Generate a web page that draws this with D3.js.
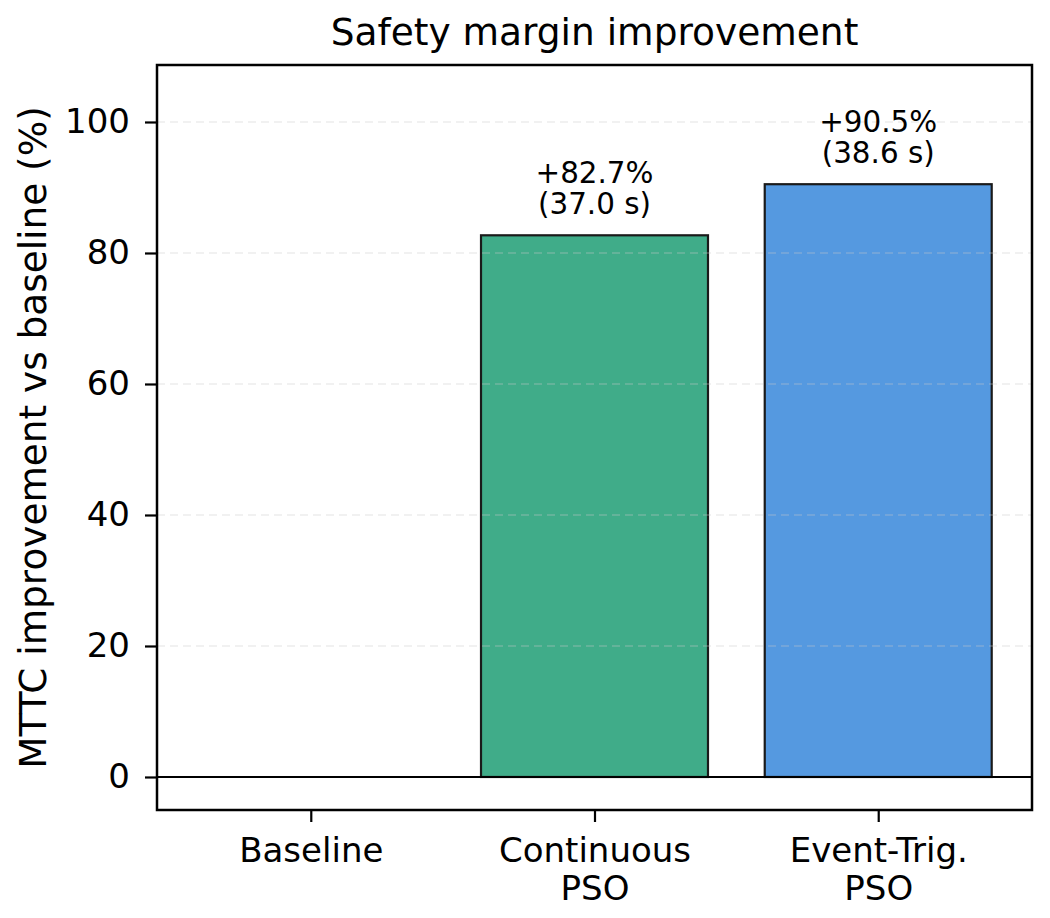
<!DOCTYPE html>
<html>
<head>
<meta charset="utf-8">
<script src="https://cdn.jsdelivr.net/npm/d3@7"></script>
<style>
  html, body { margin: 0; padding: 0; background: #fff; }
  svg { display: block; font-family: "DejaVu Sans", sans-serif; }
</style>
</head>
<body>
<div id="chart"></div>
<script>
const categories = ["Baseline", "Continuous\nPSO", "Event-Trig.\nPSO"];
const improvement = [0, 82.7, 90.5];
const mttcSeconds = [null, 37.0, 38.6];
const barColors = ["#ffffff", "#40ac89", "#5599e0"];
const yTicks = [0, 20, 40, 60, 80, 100];

const W = 1050, H = 918;
const m = { left: 157, right: 1050 - 1032, top: 65, bottom: 918 - 810 };
const iw = W - m.left - m.right;
const ih = H - m.top - m.bottom;

const svg = d3.select("#chart").append("svg").attr("width", W).attr("height", H);
const g = svg.append("g").attr("transform", `translate(${m.left},${m.top})`);

// matplotlib-style continuous x with margins
const x = d3.scaleLinear().domain([-0.542, 2.542]).range([0, iw]);
const y = d3.scaleLinear().domain([-5.04, 108.7]).range([ih, 0]);
const barW = x(0.8) - x(0);

// bars
g.selectAll("rect.bar")
  .data(improvement)
  .join("rect")
  .attr("class", "bar")
  .attr("x", (d, i) => x(i) - barW / 2)
  .attr("width", barW)
  .attr("y", (d) => y(Math.max(d, 0)))
  .attr("height", (d) => Math.abs(y(d) - y(0)))
  .attr("fill", (d, i) => barColors[i])
  .attr("stroke", "#1a1a1a")
  .attr("stroke-width", 2.2);

// faint dashed grid
g.selectAll("line.grid")
  .data(yTicks.filter((t) => t > 0))
  .join("line")
  .attr("class", "grid")
  .attr("x1", 0).attr("x2", iw)
  .attr("y1", (d) => y(d)).attr("y2", (d) => y(d))
  .attr("stroke", "#cccccc")
  .attr("stroke-opacity", 0.35)
  .attr("stroke-width", 1.5)
  .attr("stroke-dasharray", "8,5");

// zero line
g.append("line")
  .attr("x1", 0).attr("x2", iw)
  .attr("y1", y(0)).attr("y2", y(0))
  .attr("stroke", "#000").attr("stroke-width", 2.2);

// annotations, one text per line
const annData = improvement.map((v, i) => ({ v, i, s: mttcSeconds[i] })).filter((d) => d.v > 0);
g.selectAll("text.ann1")
  .data(annData)
  .join("text")
  .attr("class", "ann1")
  .attr("text-anchor", "middle")
  .attr("font-size", 29.4)
  .attr("x", (d) => x(d.i))
  .attr("y", (d) => y(d.v) - 52)
  .text((d) => `+${d.v.toFixed(1)}%`);
g.selectAll("text.ann2")
  .data(annData)
  .join("text")
  .attr("class", "ann2")
  .attr("text-anchor", "middle")
  .attr("font-size", 29.4)
  .attr("x", (d) => x(d.i))
  .attr("y", (d) => y(d.v) - 21)
  .text((d) => `(${d.s.toFixed(1)} s)`);

// axes
const yAxis = g.append("g").call(d3.axisLeft(y).tickValues(yTicks).tickSize(12).tickPadding(15));
yAxis.select(".domain").remove();
yAxis.selectAll(".tick line").attr("stroke", "#000").attr("stroke-width", 2.2);
yAxis.selectAll(".tick text").attr("font-size", 34).attr("fill", "#000")
  .attr("font-family", "DejaVu Sans, sans-serif");

const xAxis = g.append("g").attr("transform", `translate(0,${ih})`)
  .call(d3.axisBottom(x).tickValues([0, 1, 2]).tickSize(12).tickFormat(() => ""));
xAxis.select(".domain").remove();
xAxis.selectAll(".tick line").attr("stroke", "#000").attr("stroke-width", 2.2);
xAxis.selectAll(".tick").each(function (d) {
  const t = d3.select(this).append("text")
    .attr("text-anchor", "middle")
    .attr("font-size", 34)
    .attr("fill", "#000")
    .attr("font-family", "DejaVu Sans, sans-serif");
  categories[d].split("\n").forEach((line, k) => {
    t.append("tspan").attr("x", 0).attr("y", 52 + k * 38).text(line);
  });
});

// frame
g.append("rect")
  .attr("width", iw).attr("height", ih)
  .attr("fill", "none").attr("stroke", "#000").attr("stroke-width", 2.5);

// title and y label
svg.append("text")
  .attr("x", m.left + iw / 2).attr("y", 45)
  .attr("text-anchor", "middle").attr("font-size", 37.5).attr("fill", "#000")
  .text("Safety margin improvement");

svg.append("text")
  .attr("transform", `translate(46,${m.top + ih / 2}) rotate(-90)`)
  .attr("text-anchor", "middle").attr("font-size", 37.4).attr("fill", "#000")
  .text("MTTC improvement vs baseline (%)");
</script>
</body>
</html>
